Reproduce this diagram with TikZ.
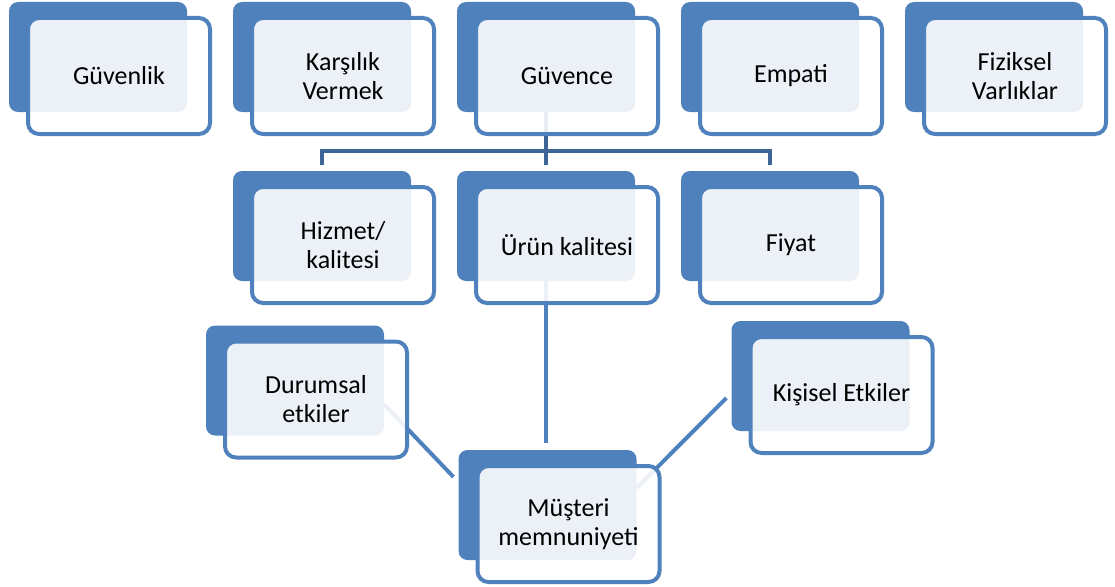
\documentclass[tikz,border=0pt]{standalone}
\usepackage{fontspec}
\setmainfont{Carlito}
\usepackage{xcolor}
\usepackage{tikz}
\definecolor{boxblue}{HTML}{4F81BD}
\definecolor{linkblue}{HTML}{3C6494}
\pgfdeclarelayer{bg}
\pgfsetlayers{bg,main}
\tikzset{
  backbox/.style={fill=boxblue, rounded corners=9pt, minimum width=178pt, minimum height=110pt, inner sep=0pt},
  frontbox/.style={draw=boxblue, line width=4pt, fill=white, fill opacity=0.89, text opacity=1,
    rounded corners=11pt, minimum width=182pt, minimum height=116pt, inner sep=0pt,
    align=center, font=\fontsize{26}{29}\selectfont},
  link/.style={draw=boxblue, line width=4pt},
  bracket/.style={draw=linkblue, line width=4pt},
}

\begin{document}
\begin{tikzpicture}[x=1pt,y=-1pt]
\useasboundingbox (0,0) rectangle (1115,586);

% top row
\node[backbox] (gvn-b) at (98,57) {};
\node[frontbox] (gvn) at ([shift={(21,19)}]gvn-b.center) {Güvenlik};
\node[backbox] (krs-b) at (322,57) {};
\node[frontbox] (krs) at ([shift={(21,19)}]krs-b.center) {Karşılık\\Vermek};
\node[backbox] (gvc-b) at (546,57) {};
\node[frontbox] (gvc) at ([shift={(21,19)}]gvc-b.center) {Güvence};
\node[backbox] (emp-b) at (770,57) {};
\node[frontbox] (emp) at ([shift={(21,19)}]emp-b.center) {Empati};
\node[backbox] (fzk-b) at (994,57) {};
\node[frontbox] (fzk) at ([shift={(21,19)}]fzk-b.center) {Fiziksel\\Varlıklar};

% second row
\node[backbox] (hiz-b) at (322,226) {};
\node[frontbox] (hiz) at ([shift={(21,19)}]hiz-b.center) {Hizmet/\\kalitesi};
\node[backbox] (urn-b) at (546,226) {};
\node[frontbox] (urn) at ([shift={(21,19)}]urn-b.center) {Ürün kalitesi};
\node[backbox] (fiy-b) at (770,226) {};
\node[frontbox] (fiy) at ([shift={(21,19)}]fiy-b.center) {Fiyat};

% influences and result
\node[backbox] (dur-b) at (295,380.5) {};
\node[frontbox] (dur) at ([shift={(21,19)}]dur-b.center) {Durumsal\\etkiler};
\node[backbox] (kis-b) at (820.5,376) {};
\node[frontbox] (kis) at ([shift={(21,19)}]kis-b.center) {Kişisel Etkiler};
\node[backbox] (mus-b) at (547.5,505) {};
\node[frontbox] (mus) at ([shift={(21,19)}]mus-b.center) {Müşteri\\memnuniyeti};

\begin{pgfonlayer}{bg}
\coordinate (fork) at (546,150.5);
\draw[bracket] (gvc-b.south) -- (gvc-b.south |- fork);
\draw[bracket, shorten <=6pt, shorten >=6pt] (hiz-b.north) -- (hiz-b.north |- fork) -- (fiy-b.north |- fork) -- (fiy-b.north);
\draw[bracket, shorten >=6pt] (urn-b.north |- fork) -- (urn-b.north);
\draw[link, shorten >=7pt] (urn-b.south) -- (urn-b.south |- mus-b.north);
\draw[link, shorten >=7pt] ([shift={(0,24)}]dur-b.east) -- ([shift={(0,-23)}]mus-b.west);
\draw[link, shorten <=7pt] ([shift={(0,17)}]kis-b.west) -- ([shift={(0,-17)}]mus-b.east);
\end{pgfonlayer}
\end{tikzpicture}
\end{document}
